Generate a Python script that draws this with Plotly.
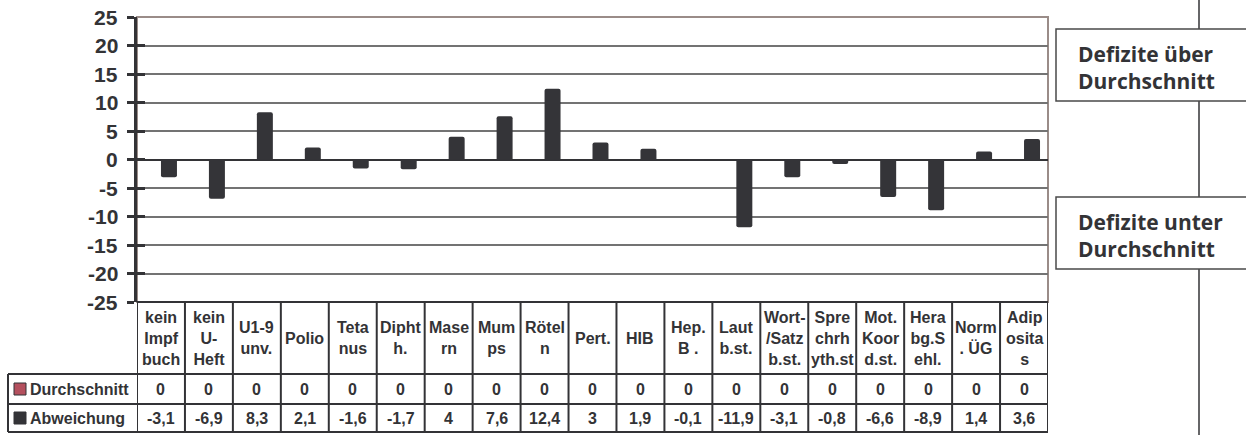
import plotly.graph_objects as go

# Kategorien (Zeilenumbrüche wie in der Tabellenkopfzeile)
categories = [
    "kein<br>Impf<br>buch", "kein<br>U-<br>Heft", "U1-9<br>unv.", "Polio",
    "Teta<br>nus", "Dipht<br>h.", "Mase<br>rn", "Mum<br>ps", "Rötel<br>n",
    "Pert.", "HIB", "Hep.<br>B .", "Laut<br>b.st.", "Wort-<br>/Satz<br>b.st.",
    "Spre<br>chrh<br>yth.st", "Mot.<br>Koor<br>d.st.", "Hera<br>bg.S<br>ehl.",
    "Norm<br>. ÜG", "Adip<br>osita<br>s",
]
durchschnitt = [0] * 19
abweichung = [-3.1, -6.9, 8.3, 2.1, -1.6, -1.7, 4, 7.6, 12.4, 3, 1.9, -0.1,
              -11.9, -3.1, -0.8, -6.6, -8.9, 1.4, 3.6]
series_names = ["Durchschnitt", "Abweichung"]
y_ticks = list(range(-25, 26, 5))
y_tick_labels = [str(v) for v in y_ticks]

W, H = 1246, 435
L, R, T, B = 137, 1048, 17, 302          # plot area in pixels
COL_DARK = "#333336"
COL_RED = "#b4505e"
COL_BAR = "#343438"
FONT = "Liberation Sans, Arial, sans-serif"


def px_x(p):
    return (p - L) / (R - L)


def px_y(p):
    return (B - p) / (B - T)


def fmt(v):
    return f"{v:g}".replace(".", ",")


x_idx = list(range(len(categories)))

fig = go.Figure()
fig.add_trace(go.Bar(x=x_idx, y=durchschnitt, name=series_names[0],
                     marker=dict(color=COL_RED, line_width=0)))
fig.add_trace(go.Bar(x=x_idx, y=abweichung, name=series_names[1],
                     marker=dict(color=COL_BAR, line_width=0, cornerradius=2)))

shapes = []
annotations = []

# plot area frame (top / right)
shapes.append(dict(type="rect", xref="paper", yref="paper", x0=0, x1=1, y0=0, y1=1,
                   line=dict(color="#9a8c88", width=2), layer="below"))

# data table below the chart
row_hdr_bot = px_y(374)
row1_bot = px_y(404)
row2_bot = px_y(432)
tbl_left = px_x(8)
line_tbl = dict(color=COL_DARK, width=2)

shapes.append(dict(type="line", xref="paper", yref="paper", x0=0, x1=1, y0=0, y1=0, line=line_tbl))
for yb in (row_hdr_bot, row1_bot, row2_bot):
    shapes.append(dict(type="line", xref="paper", yref="paper", x0=tbl_left, x1=1,
                       y0=yb, y1=yb, line=line_tbl))
shapes.append(dict(type="line", xref="paper", yref="paper", x0=tbl_left, x1=tbl_left,
                   y0=row_hdr_bot, y1=row2_bot, line=line_tbl))
for i in range(len(categories) + 1):
    shapes.append(dict(type="line", xref="x", yref="paper", x0=i - 0.5, x1=i - 0.5,
                       y0=0, y1=row2_bot, line=line_tbl))

tfont = dict(family=FONT, size=16, color=COL_DARK)
hdr_mid = (0 + row_hdr_bot) / 2
r1_mid = (row_hdr_bot + row1_bot) / 2
r2_mid = (row1_bot + row2_bot) / 2
for i, c in enumerate(categories):
    annotations.append(dict(x=i, y=hdr_mid, xref="x", yref="paper", text=f"<b>{c}</b>",
                            showarrow=False, font=tfont, xanchor="center", yanchor="middle",
                            align="center"))
    annotations.append(dict(x=i, y=r1_mid, xref="x", yref="paper",
                            text=f"<b>{fmt(durchschnitt[i])}</b>",
                            showarrow=False, font=tfont, xanchor="center", yanchor="middle"))
    annotations.append(dict(x=i, y=r2_mid, xref="x", yref="paper",
                            text=f"<b>{fmt(abweichung[i])}</b>",
                            showarrow=False, font=tfont, xanchor="center", yanchor="middle"))

# row headers with legend keys
for name, col, mid in ((series_names[0], COL_RED, r1_mid), (series_names[1], COL_BAR, r2_mid)):
    half = 6 / (B - T)
    shapes.append(dict(type="rect", xref="paper", yref="paper", x0=px_x(14), x1=px_x(26),
                       y0=mid - half, y1=mid + half, fillcolor=col,
                       line=dict(color=COL_DARK, width=1)))
    annotations.append(dict(x=px_x(28), y=mid, xref="paper", yref="paper",
                            text=f"<b>{name}</b>", showarrow=False, font=tfont,
                            xanchor="left", yanchor="middle"))

# right-hand separator line and labels
shapes.append(dict(type="line", xref="paper", yref="paper", x0=px_x(1199), x1=px_x(1199),
                   y0=px_y(-5), y1=px_y(440), line=dict(color=COL_DARK, width=1.5)))
box_font = dict(family="Open Sans, sans-serif", size=21, color=COL_DARK)
for top, bot, label in ((29, 101, "Defizite über<br>Durchschnitt"),
                        (197, 269, "Defizite unter<br>Durchschnitt")):
    shapes.append(dict(type="rect", xref="paper", yref="paper", x0=px_x(1056), x1=px_x(1260),
                       y0=px_y(bot), y1=px_y(top), fillcolor="white",
                       line=dict(color="#4a4a4a", width=1.5)))
    annotations.append(dict(x=px_x(1076), y=px_y((top + bot) / 2 + 2.5), xref="paper",
                            yref="paper", text=f"<b>{label}</b>", showarrow=False,
                            font=box_font, xanchor="left", yanchor="middle", align="left"))

# y tick labels drawn as annotations so the font size is fully controlled
for v, t in zip(y_ticks, y_tick_labels):
    annotations.append(dict(x=px_x(120), y=v, xref="paper", yref="y", text=f"<b>{t}</b>",
                            showarrow=False, xanchor="right", yanchor="middle",
                            font=dict(family=FONT, size=21, color=COL_DARK)))

fig.update_layout(
    width=W, height=H,
    margin=dict(l=L, r=W - R, t=T, b=H - B, pad=0),
    paper_bgcolor="white", plot_bgcolor="white",
    barmode="group", bargap=0.333, bargroupgap=0,
    showlegend=False,
    shapes=shapes, annotations=annotations,
    xaxis=dict(range=[-0.5, len(categories) - 0.5], showticklabels=False, showgrid=False,
               zeroline=False, showline=False, ticks=""),
    yaxis=dict(range=[-25, 25], tickvals=y_ticks, showticklabels=False,
               ticks="outside", ticklen=7, tickwidth=3,
               tickcolor=COL_DARK, showline=True, linecolor=COL_DARK, linewidth=3,
               gridcolor="#737373", gridwidth=1.6, zeroline=True, zerolinecolor=COL_DARK,
               zerolinewidth=2),
    yaxis2=dict(range=[-25, 25], tickvals=y_ticks, overlaying="y", side="left",
                ticks="inside", ticklen=8, tickwidth=3, tickcolor=COL_DARK,
                showticklabels=False, showgrid=False, zeroline=False, showline=False),
)
fig.add_trace(go.Scatter(x=[None], y=[None], yaxis="y2", showlegend=False, hoverinfo="skip"))

fig.write_html("out.html")
